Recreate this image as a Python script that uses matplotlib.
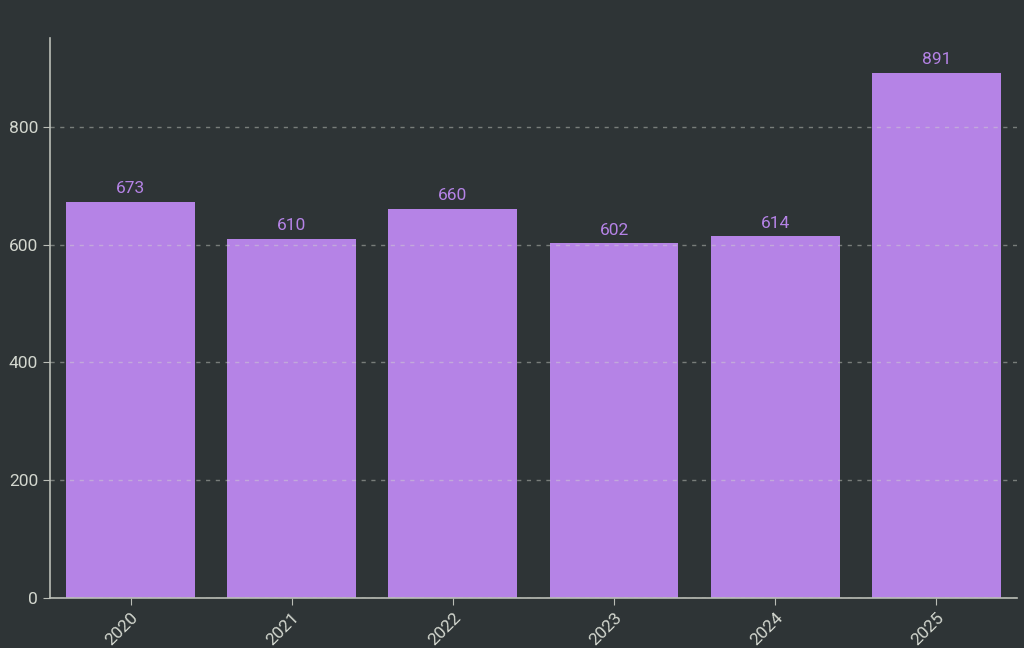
import matplotlib
matplotlib.use("Agg")
import matplotlib.pyplot as plt

years = ["2020", "2021", "2022", "2023", "2024", "2025"]
counts = [673, 610, 660, 602, 614, 891]

BG = "#2e3436"
BAR = "#b583e6"
TXT = "#d3d7cf"

plt.rcParams["font.family"] = ["Roboto", "DejaVu Sans"]

fig = plt.figure(figsize=(10.24, 6.48), dpi=100, facecolor=BG)
ax = fig.add_axes([0.0488, 0.0772, 0.9443, 0.8642], facecolor=BG)

x = list(range(len(years)))
bars = ax.bar(x, counts, width=0.8, color=BAR, zorder=2)

for xi, v in zip(x, counts):
    ax.text(xi, v + 10, str(v), ha="center", va="bottom", color=BAR, fontsize=12.5)

ax.set_xlim(-0.5, 5.5)
ax.set_ylim(0, 951)
ax.set_xticks(x)
ax.set_xticklabels(years, rotation=45, ha="right", rotation_mode="anchor")
ax.set_yticks([0, 200, 400, 600, 800])

ax.yaxis.grid(True, linestyle=(0, (3, 4)), color="#d3d7cf", alpha=0.45, linewidth=1, zorder=3)
ax.set_axisbelow(False)

for s in ["top", "right"]:
    ax.spines[s].set_visible(False)
for s in ["left", "bottom"]:
    ax.spines[s].set_color("#babdb6")
    ax.spines[s].set_linewidth(1.2)

ax.tick_params(colors="#babdb6", labelcolor=TXT, labelsize=12.5, length=5)

fig.savefig("out.png", dpi=100, facecolor=BG)
